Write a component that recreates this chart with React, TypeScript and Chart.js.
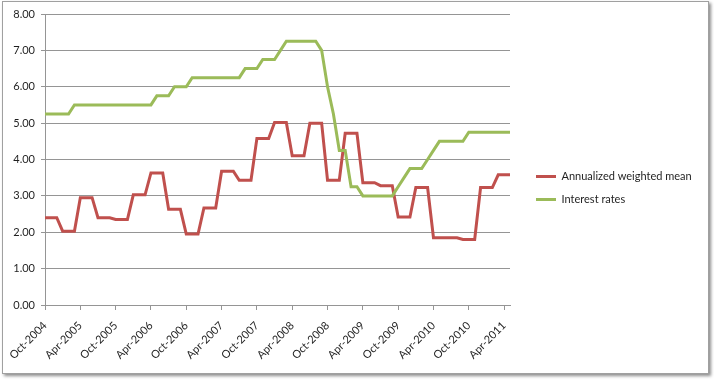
import React, { useEffect, useRef } from "react";
import { Chart, registerables } from "chart.js";

Chart.register(...registerables);

const CATEGORIES = [
  "Oct-2004", "Nov-2004", "Dec-2004",
  "Jan-2005", "Feb-2005", "Mar-2005", "Apr-2005", "May-2005", "Jun-2005", "Jul-2005", "Aug-2005", "Sep-2005", "Oct-2005", "Nov-2005", "Dec-2005",
  "Jan-2006", "Feb-2006", "Mar-2006", "Apr-2006", "May-2006", "Jun-2006", "Jul-2006", "Aug-2006", "Sep-2006", "Oct-2006", "Nov-2006", "Dec-2006",
  "Jan-2007", "Feb-2007", "Mar-2007", "Apr-2007", "May-2007", "Jun-2007", "Jul-2007", "Aug-2007", "Sep-2007", "Oct-2007", "Nov-2007", "Dec-2007",
  "Jan-2008", "Feb-2008", "Mar-2008", "Apr-2008", "May-2008", "Jun-2008", "Jul-2008", "Aug-2008", "Sep-2008", "Oct-2008", "Nov-2008", "Dec-2008",
  "Jan-2009", "Feb-2009", "Mar-2009", "Apr-2009", "May-2009", "Jun-2009", "Jul-2009", "Aug-2009", "Sep-2009", "Oct-2009", "Nov-2009", "Dec-2009",
  "Jan-2010", "Feb-2010", "Mar-2010", "Apr-2010", "May-2010", "Jun-2010", "Jul-2010", "Aug-2010", "Sep-2010", "Oct-2010", "Nov-2010", "Dec-2010",
  "Jan-2011", "Feb-2011", "Mar-2011", "Apr-2011", "May-2011",
];

const TICK_LABELS = [
  "Oct-2004", "Apr-2005", "Oct-2005", "Apr-2006", "Oct-2006", "Apr-2007", "Oct-2007",
  "Apr-2008", "Oct-2008", "Apr-2009", "Oct-2009", "Apr-2010", "Oct-2010", "Apr-2011",
];

const WEIGHTED_MEAN = [
  2.40, 2.40, 2.40, 2.03, 2.03, 2.03, 2.95, 2.95, 2.95, 2.40, 2.40, 2.40,
  2.35, 2.35, 2.35, 3.03, 3.03, 3.03, 3.63, 3.63, 3.63, 2.63, 2.63, 2.63,
  1.95, 1.95, 1.95, 2.67, 2.67, 2.67, 3.68, 3.68, 3.68, 3.43, 3.43, 3.43,
  4.58, 4.58, 4.58, 5.02, 5.02, 5.02, 4.10, 4.10, 4.10, 5.00, 5.00, 5.00,
  3.43, 3.43, 3.43, 4.72, 4.72, 4.72, 3.36, 3.36, 3.36, 3.28, 3.28, 3.28,
  2.42, 2.42, 2.42, 3.23, 3.23, 3.23, 1.85, 1.85, 1.85, 1.85, 1.85, 1.80,
  1.80, 1.80, 3.23, 3.23, 3.23, 3.58, 3.58, 3.58,
];

const INTEREST_RATES = [
  5.25, 5.25, 5.25, 5.25, 5.25, 5.50, 5.50, 5.50, 5.50, 5.50, 5.50, 5.50,
  5.50, 5.50, 5.50, 5.50, 5.50, 5.50, 5.50, 5.75, 5.75, 5.75, 6.00, 6.00,
  6.00, 6.25, 6.25, 6.25, 6.25, 6.25, 6.25, 6.25, 6.25, 6.25, 6.50, 6.50,
  6.50, 6.75, 6.75, 6.75, 7.00, 7.25, 7.25, 7.25, 7.25, 7.25, 7.25, 7.00,
  6.00, 5.25, 4.25, 4.25, 3.25, 3.25, 3.00, 3.00, 3.00, 3.00, 3.00, 3.00,
  3.25, 3.50, 3.75, 3.75, 3.75, 4.00, 4.25, 4.50, 4.50, 4.50, 4.50, 4.50,
  4.75, 4.75, 4.75, 4.75, 4.75, 4.75, 4.75, 4.75,
];

const SERIES_NAMES = ["Annualized weighted mean", "Interest rates"];
const Y_TICKS = [0, 1, 2, 3, 4, 5, 6, 7, 8];
const TICK_EVERY = 6;

const RED = "#C0504D";
const GREEN = "#9BBB59";
const GRID = "#959595";
const TEXT = "#1f1f1f";

const legendShift = {
  id: "legendShift",
  afterLayout(chart: any) {
    const l = chart.legend;
    if (!l) return;
    const dx = 14;
    const dy = -9;
    l.left += dx;
    l.right += dx;
    l.top += dy;
    l.bottom += dy;
  },
};

export default function App() {
  const ref = useRef<HTMLCanvasElement | null>(null);

  useEffect(() => {
    document.body.style.margin = "0";
    const canvas = ref.current;
    if (!canvas) return;
    Chart.defaults.font.family = "Lato";
    Chart.defaults.font.size = 11;
    Chart.defaults.color = TEXT;

    const chart = new Chart(canvas, {
      type: "line",
      data: {
        labels: CATEGORIES,
        datasets: [
          {
            label: SERIES_NAMES[0],
            data: WEIGHTED_MEAN,
            borderColor: RED,
            backgroundColor: RED,
            borderWidth: 3,
            pointRadius: 0,
            tension: 0,
            order: 1,
          },
          {
            label: SERIES_NAMES[1],
            data: INTEREST_RATES,
            borderColor: GREEN,
            backgroundColor: GREEN,
            borderWidth: 3,
            pointRadius: 0,
            tension: 0,
            order: 0,
          },
        ],
      },
      options: {
        animation: false,
        responsive: false,
        maintainAspectRatio: false,
        layout: { padding: { left: 0, right: 34, top: 14, bottom: 0 } },
        plugins: {
          tooltip: { enabled: false },
          legend: {
            position: "right",
            labels: {
              usePointStyle: true,
              pointStyle: "line",
              pointStyleWidth: 20,
              boxHeight: 11,
              padding: 12,
              color: TEXT,
              font: { family: "Lato", size: 11 },
              sort: (a: any, b: any) => a.datasetIndex - b.datasetIndex,
            },
          },
        },
        scales: {
          x: {
            type: "category",
            offset: false,
            afterFit: (s: any) => {
              s.height = 75;
            },
            grid: {
              drawOnChartArea: false,
              drawTicks: true,
              tickLength: 5,
              tickColor: (ctx: any) => (ctx.index % TICK_EVERY === 0 ? GRID : "rgba(0,0,0,0)"),
            },
            border: { color: GRID, width: 1 },
            ticks: {
              autoSkip: false,
              maxRotation: 45,
              minRotation: 45,
              padding: 9,
              color: TEXT,
              font: { family: "Lato", size: 11 },
              callback: (_v: any, idx: number) =>
                idx % TICK_EVERY === 0 ? TICK_LABELS[idx / TICK_EVERY] : "",
            },
          },
          y: {
            min: Y_TICKS[0],
            max: Y_TICKS[Y_TICKS.length - 1],
            afterFit: (s: any) => {
              s.width = 45;
            },
            grid: { color: GRID, tickLength: 4, lineWidth: 1 },
            border: { color: GRID, width: 1 },
            ticks: {
              stepSize: 1,
              padding: 6,
              color: TEXT,
              font: { family: "Lato", size: 11 },
              callback: (v: any) => Number(v).toFixed(2),
            },
          },
        },
      },
      plugins: [legendShift],
    });
    return () => chart.destroy();
  }, []);

  return (
    <div style={{ position: "relative", width: 714, height: 380, background: "#fff" }}>
      <div
        style={{
          position: "absolute",
          left: 2,
          top: 1,
          width: 705,
          height: 371,
          border: "1px solid #a0a0a0",
          boxShadow: "2px 2px 3px rgba(0,0,0,0.45)",
          background: "#fff",
        }}
      />
      <canvas
        ref={ref}
        width={714}
        height={380}
        style={{ position: "absolute", left: 0, top: 0, width: 714, height: 380 }}
      />
    </div>
  );
}
